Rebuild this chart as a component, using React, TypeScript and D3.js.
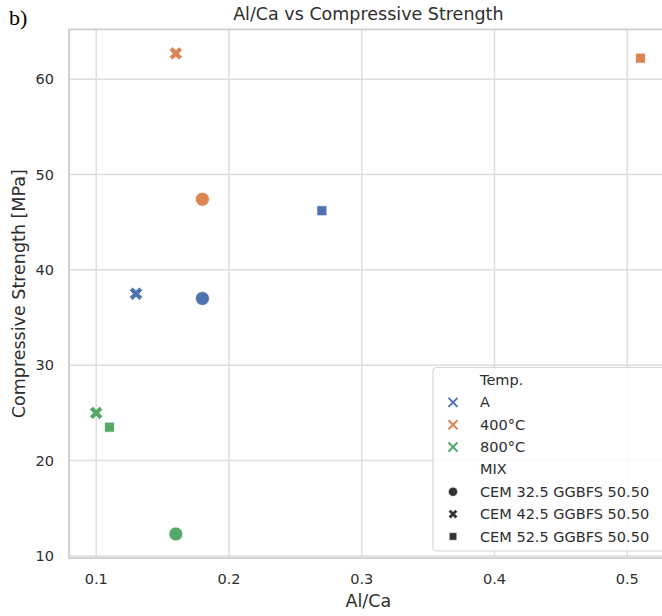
import React from "react";
import * as d3 from "d3";

const temps = ["A", "400°C", "800°C"];
const mixes = ["CEM 32.5 GGBFS 50.50", "CEM 42.5 GGBFS 50.50", "CEM 52.5 GGBFS 50.50"];
const pointTemp = ["A", "A", "A", "400°C", "400°C", "400°C", "800°C", "800°C", "800°C"];
const pointMix = [0, 1, 2, 0, 1, 2, 0, 1, 2];
const alCa = [0.18, 0.13, 0.27, 0.18, 0.16, 0.51, 0.16, 0.10, 0.11];
const strength = [37.0, 37.5, 46.2, 47.4, 62.7, 62.2, 12.3, 25.0, 23.5];
const xTicks = [0.1, 0.2, 0.3, 0.4, 0.5];
const yTicks = [10, 20, 30, 40, 50, 60];

const W = 662;
const H = 616;
const left = 69;
const top = 29.4;
const bottom = 558;
const right = 667.7;

const font = "DejaVu Sans, sans-serif";
const textColor = "#2e2e2e";
const gridColor = "#dedede";

const color = d3.scaleOrdinal<string, string>().domain(temps).range(["#4c72b0", "#dd8452", "#55a868"]);

const markerPath = (mix: number, big: boolean) => {
  if (mix === 0) return d3.symbol(d3.symbolCircle, big ? 154 : 66)()!;
  if (mix === 1) return d3.symbol(d3.symbolCross, big ? 112 : 52)()!;
  return d3.symbol(d3.symbolSquare, big ? 100 : 56)()!;
};

const App = () => {
  const ext = d3.extent(alCa) as [number, number];
  const xPad = (ext[1] - ext[0]) * 0.05;
  const x = d3.scaleLinear().domain([ext[0] - xPad, ext[1] + xPad]).range([left, right]);
  const yExt = d3.extent(strength) as [number, number];
  const yPad = (yExt[1] - yExt[0]) * 0.05;
  const y = d3.scaleLinear().domain([yExt[0] - yPad, yExt[1] + yPad]).range([bottom, top]);

  const legendRows = [
    { label: "Temp.", kind: "title" },
    ...temps.map(t => ({ label: t, kind: "temp" })),
    { label: "MIX", kind: "title" },
    ...mixes.map((m, i) => ({ label: m, kind: "mix", idx: i })),
  ];

  return (
    <svg width={W} height={H} style={{ position: "absolute", left: 0, top: 0, background: "#fff" }}>
      <text x={9} y={25} fontFamily="Liberation Serif, serif" fontSize={22} fill="#000">b)</text>
      <text x={(left + right) / 2} y={20} textAnchor="middle" fontFamily={font} fontSize={17.5} fill={textColor}>
        Al/Ca vs Compressive Strength
      </text>

      {xTicks.map(t => (
        <g key={"x" + t}>
          <line x1={x(t)} x2={x(t)} y1={top} y2={bottom} stroke={gridColor} strokeWidth={1.5} />
          <text x={x(t)} y={584} textAnchor="middle" fontFamily={font} fontSize={14.5} fill={textColor}>
            {d3.format(".1f")(t)}
          </text>
        </g>
      ))}
      {yTicks.map(t => (
        <g key={"y" + t}>
          <line x1={left} x2={right} y1={y(t)} y2={y(t)} stroke={gridColor} strokeWidth={1.5} />
          <text x={54} y={y(t)} dy="0.35em" textAnchor="end" fontFamily={font} fontSize={14.5} fill={textColor}>
            {t}
          </text>
        </g>
      ))}
      <rect x={left} y={top} width={right - left} height={bottom - top} fill="none" stroke="#cfcfcf" strokeWidth={1.8} />

      <text x={(left + right) / 2} y={607} textAnchor="middle" fontFamily={font} fontSize={17.5} fill={textColor}>
        Al/Ca
      </text>
      <text
        transform={`translate(25, ${(top + bottom) / 2}) rotate(-90)`}
        textAnchor="middle"
        fontFamily={font}
        fontSize={17.5}
        fill={textColor}
      >
        Compressive Strength [MPa]
      </text>

      {alCa.map((v, i) => (
        <path
          key={"p" + i}
          d={markerPath(pointMix[i], true)}
          transform={`translate(${x(v)}, ${y(strength[i])})${pointMix[i] === 1 ? " rotate(45)" : ""}`}
          fill={color(pointTemp[i])}
          stroke="#fff"
          strokeWidth={0.8}
        />
      ))}

      <g>
        <rect x={433} y={367.5} width={240} height={183.5} rx={4} fill="#fff" fillOpacity={0.85} stroke="#d6d6d6" strokeWidth={1.2} />
        {legendRows.map((r: any, i) => {
          const cy = 380 + i * 22.35;
          return (
            <g key={"l" + i}>
              {r.kind === "temp" && (
                <g transform={`translate(453, ${cy})`} stroke={color(r.label)} strokeWidth={2}>
                  <line x1={-4.5} y1={-4.5} x2={4.5} y2={4.5} />
                  <line x1={-4.5} y1={4.5} x2={4.5} y2={-4.5} />
                </g>
              )}
              {r.kind === "mix" && (
                <path
                  d={markerPath(r.idx, false)}
                  transform={`translate(453, ${cy})${r.idx === 1 ? " rotate(45)" : ""}`}
                  fill="#333"
                  stroke="#fff"
                  strokeWidth={0.5}
                />
              )}
              <text x={480} y={cy} dy="0.35em" fontFamily={font} fontSize={14.5} fill={textColor}>
                {r.label}
              </text>
            </g>
          );
        })}
      </g>
    </svg>
  );
};

export default App;
